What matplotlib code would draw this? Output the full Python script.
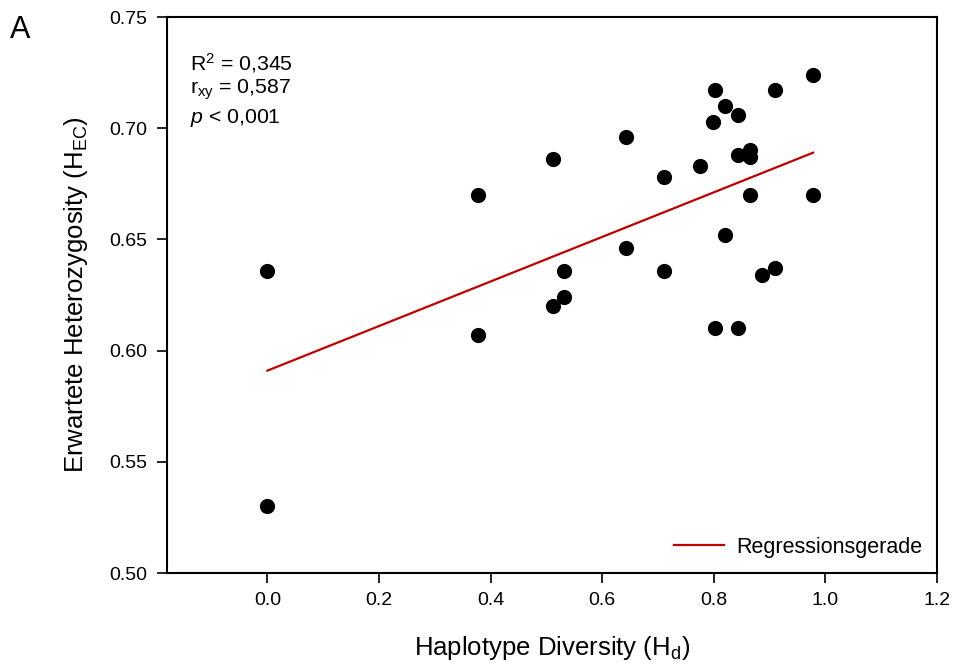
import matplotlib
matplotlib.use("Agg")
import matplotlib.pyplot as plt
import numpy as np

plt.rcParams['font.family'] = ['Liberation Sans', 'DejaVu Sans']
plt.rcParams['mathtext.fontset'] = 'custom'
plt.rcParams['mathtext.rm'] = 'Liberation Sans'
plt.rcParams['mathtext.it'] = 'Liberation Sans:italic'
plt.rcParams['mathtext.bf'] = 'Liberation Sans:bold'

# Data (Haplotype diversity vs expected heterozygosity)
hd = [0.0, 0.0, 0.378, 0.378, 0.511, 0.512, 0.532, 0.532, 0.643, 0.643,
      0.710, 0.710, 0.776, 0.798, 0.803, 0.803, 0.820, 0.820, 0.843, 0.843,
      0.843, 0.865, 0.865, 0.865, 0.887, 0.909, 0.909, 0.977, 0.977]
hec = [0.636, 0.530, 0.670, 0.607, 0.686, 0.620, 0.636, 0.624, 0.696, 0.646,
       0.678, 0.636, 0.683, 0.703, 0.717, 0.610, 0.710, 0.652, 0.706, 0.688,
       0.610, 0.690, 0.687, 0.670, 0.634, 0.717, 0.637, 0.724, 0.670]

# Regression line endpoints
reg_x = [0.0, 0.978]
reg_y = [0.591, 0.689]

xticks = [0.0, 0.2, 0.4, 0.6, 0.8, 1.0, 1.2]
yticks = [0.50, 0.55, 0.60, 0.65, 0.70, 0.75]

fig = plt.figure(figsize=(9.57, 6.70), dpi=100)
ax = fig.add_axes([167/957, 1-573/670, (937-167)/957, (573-17)/670])

ax.scatter(hd, hec, s=120, color='black', zorder=3, linewidths=0)
ax.plot(reg_x, reg_y, color='#c00000', lw=1.6, label='Regressionsgerade', zorder=2)

ax.set_xlim(-0.18, 1.2)
ax.set_ylim(0.50, 0.75)
ax.set_xticks(xticks)
ax.set_xticklabels([f"{v:.1f}" for v in xticks])
ax.set_yticks(yticks)
ax.set_yticklabels([f"{v:.2f}" for v in yticks])
ax.tick_params(direction='out', length=7, width=1.2, labelsize=14, top=False, right=False, pad=7)
for s in ax.spines.values():
    s.set_linewidth(1.5)

ax.set_xlabel(r'Haplotype Diversity (H$_{\mathrm{d}}$)', fontsize=18.5, labelpad=18)
ax.set_ylabel(r'Erwartete Heterozygosity (H$_{\mathrm{EC}}$)', fontsize=18.5, labelpad=14)

ax.text(0.03, 0.905, r'R$^{2}$ = 0,345', transform=ax.transAxes, fontsize=15.3, va='baseline')
ax.text(0.03, 0.862, r'r$_{\mathrm{xy}}$ = 0,587', transform=ax.transAxes, fontsize=15.3, va='baseline')
ax.text(0.03, 0.809, r'$p$ < 0,001', transform=ax.transAxes, fontsize=15.3, va='baseline')

leg = ax.legend(loc='lower right', frameon=False, fontsize=15.5, handlelength=2.3,
                handletextpad=0.55, borderaxespad=0.3, bbox_to_anchor=(1.0, 0.0))

fig.text(10/957, 1-30/670, 'A', fontsize=22, va='center', ha='left')

fig.savefig('out.png', dpi=100)
